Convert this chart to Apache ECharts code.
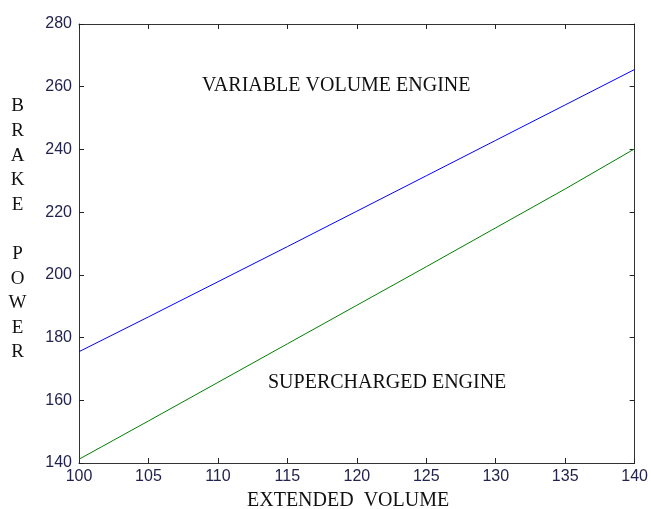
<!DOCTYPE html>
<html><head><meta charset="utf-8">
<script src="https://cdn.jsdelivr.net/npm/echarts@6/dist/echarts.min.js"></script>
<style>html,body{margin:0;padding:0;background:#fff}#c{width:651px;height:509px}</style>
</head><body><div id="c"></div>
<script>
const xValues = [100, 105, 110, 115, 120, 125, 130, 135, 140];
const variableVolume = [175.5, 186.6, 197.8, 209.0, 220.3, 231.6, 242.9, 254.2, 265.5];
const supercharged = [141.2, 153.4, 165.7, 178.0, 190.3, 202.6, 215.0, 227.4, 240.2];
const yTicks = [140, 160, 180, 200, 220, 240, 260, 280];
const xLabel = 'EXTENDED  VOLUME';
const yLabelLetters = ['B','R','A','K','E','','P','O','W','E','R'];
const note1 = 'VARIABLE VOLUME ENGINE';
const note2 = 'SUPERCHARGED ENGINE';

const chart = echarts.init(document.getElementById('c'));
const axisLine = {show: true, lineStyle: {color: '#333', width: 1}};
const tickStyle = {show: true, inside: true, length: 5, lineStyle: {color: '#222', width: 1}};
const lab = {color: '#23234f', fontFamily: 'Liberation Sans', fontSize: 16};
const serif = {fontFamily: 'Liberation Serif', fontSize: 20, fill: '#111'};
chart.setOption({
  animation: false,
  grid: {left: 79, top: 24, right: 16, bottom: 46},
  xAxis: [
    {type: 'value', min: 100, max: 140, interval: 5, position: 'bottom',
     axisLine: axisLine, axisTick: tickStyle, splitLine: {show: false},
     axisLabel: Object.assign({margin: 6}, lab)},
    {type: 'value', min: 100, max: 140, interval: 5, position: 'top',
     axisLine: axisLine, axisTick: tickStyle, splitLine: {show: false},
     axisLabel: {show: false}}
  ],
  yAxis: [
    {type: 'value', min: yTicks[0], max: yTicks[yTicks.length-1], interval: 20, position: 'left',
     axisLine: axisLine, axisTick: tickStyle, splitLine: {show: false},
     axisLabel: Object.assign({margin: 7}, lab)},
    {type: 'value', min: yTicks[0], max: yTicks[yTicks.length-1], interval: 20, position: 'right',
     axisLine: axisLine, axisTick: tickStyle, splitLine: {show: false},
     axisLabel: {show: false}}
  ],
  series: [
    {type: 'line', data: xValues.map((x, i) => [x, variableVolume[i]]), showSymbol: false,
     lineStyle: {color: '#0000ff', width: 1}},
    {type: 'line', data: xValues.map((x, i) => [x, supercharged[i]]), showSymbol: false,
     lineStyle: {color: '#008000', width: 1}}
  ],
  graphic: [
    {type: 'text', x: 247, y: 501, style: Object.assign({text: xLabel, align: 'left', verticalAlign: 'middle'}, serif)},
    {type: 'text', x: 17.5, y: 94.2, style: Object.assign({text: yLabelLetters.join('\n'), lineHeight: 24.6, align: 'center', verticalAlign: 'top'}, serif, {fontSize: 19})},
    {type: 'text', x: 202, y: 86, style: Object.assign({text: note1, align: 'left', verticalAlign: 'middle'}, serif)},
    {type: 'text', x: 268, y: 382.5, style: Object.assign({text: note2, align: 'left', verticalAlign: 'middle'}, serif)}
  ]
});
</script></body></html>
